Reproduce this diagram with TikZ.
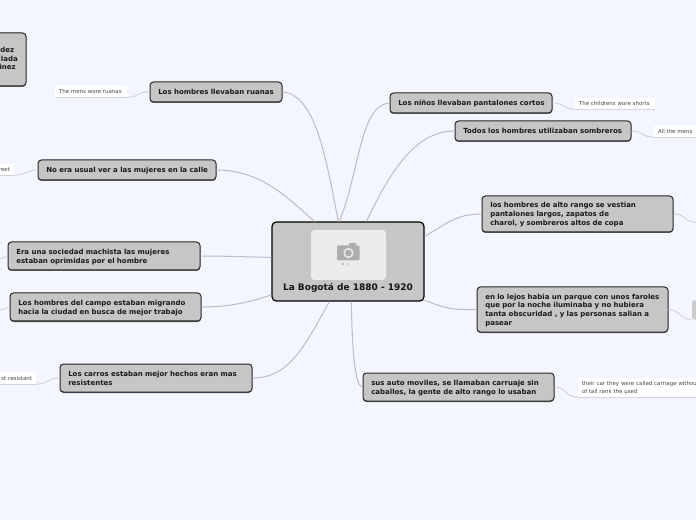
\documentclass[tikz,border=0pt]{standalone}
\usepackage{fontspec}
\setmainfont{DejaVu Sans}
\definecolor{bg}{HTML}{F3F6FF}
\definecolor{topicfill}{HTML}{C6C6C6}
\definecolor{edgeline}{HTML}{BDBDC2}
\definecolor{notetext}{HTML}{454545}
\definecolor{noteline}{HTML}{D4D4D8}
\newcommand{\topicfont}{\bfseries\fontsize{5.25}{6.6}\selectfont}
\tikzset{
  x=.75pt,y=-.75pt,
  topicbox/.style={draw=black!85,fill=topicfill,line width=.75pt,rounded corners=2.6pt,
    inner xsep=6.2pt,inner ysep=0pt,align=left,font=\topicfont,text=black!90},
  fartext/.style={inner sep=0pt,font=\topicfont,text=black!90,anchor=east},
  rootbox/.style={draw=black,fill=topicfill,line width=.9pt,rounded corners=3.2pt,inner sep=0pt},
  notebox/.style={fill=white,inner xsep=3pt,inner ysep=0pt,align=left,
    font=\fontsize{4.1}{6.2}\selectfont,text=notetext},
  branch/.style={draw=edgeline,line width=.75pt},
  twig/.style={draw=noteline,line width=.75pt},
}
% name, x1, y1, x2, y2, text
\newcommand{\topicnode}[6]{%
  \pgfmathsetmacro{\wid}{(#4-#2)*.75-12.4}%
  \pgfmathsetmacro{\hei}{(#5-#3)*.75}%
  \pgfmathsetmacro{\cx}{(#2+#4)/2}%
  \pgfmathsetmacro{\cy}{(#3+#5)/2}%
  \fill[black!60,rounded corners=2.6pt] (#2,#3+1) rectangle (#4,#5+1);
  \node[topicbox,text width=\wid pt,minimum height=\hei pt] (#1) at (\cx,\cy) {\raisebox{0pt}[\dimexpr\height+1.5pt\relax][\depth]{\begin{tabular}{@{}l@{}}#6\end{tabular}}};}
\newcommand{\notenode}[6]{%
  \pgfmathsetmacro{\wid}{(#4-#2)*.75-6}%
  \pgfmathsetmacro{\hei}{(#5-#3)*.75}%
  \pgfmathsetmacro{\cx}{(#2+#4)/2}%
  \pgfmathsetmacro{\cy}{(#3+#5)/2}%
  \node[notebox,text width=\wid pt,minimum height=\hei pt] (#1) at (\cx,\cy) {#6};
  \draw[twig] (#1.south west) -- (#1.south east);}
\begin{document}
\begin{tikzpicture}
\useasboundingbox (0,0) rectangle (696,520);
\clip (0,0) rectangle (696,520);
\fill[bg] (0,0) rectangle (696,520);

% root
\node[rootbox,minimum width=114pt,minimum height=59.25pt] (root) at (348,261.5) {};
\node[fill=black!8,rounded corners=2.5pt,minimum width=56.25pt,minimum height=37.5pt,inner sep=0pt] (photo) at (348.5,255) {};
\fill[black!32,rounded corners=.8pt] (337,245.5) rectangle (359.5,260.5);
\fill[black!32] (349,243.5) rectangle (356,246);
\draw[black!8,line width=1.1pt] (348.5,253) circle (4.3);
\fill[black!32] (343,264) circle (1.2);
\fill[black!22] (348,264) circle (1.2);
\node[font=\bfseries\fontsize{6.75}{8}\selectfont,text=black!92,inner sep=0pt] (title) at (348,288) {La Bogotá de 1880 - 1920};

% clipped top-left topic
\fill[black!60,rounded corners=2.6pt] (-20,33) rectangle (26,87);
\node[topicbox,minimum width=34.5pt,minimum height=39.75pt,inner xsep=0pt] (far) at (3,59.5) {};
\node[fartext] (fara) at (14.5,50) {dez};
\node[fartext] (farb) at (18,59) {lada};
\node[fartext] (farc) at (16,67) {inez};

% topics
\topicnode{ruanas}{150}{82}{282}{102}{Los hombres llevaban ruanas}
\topicnode{calle}{38}{160}{216}{180}{No era usual ver a las mujeres en la calle}
\topicnode{machista}{8}{242}{200}{270}{Era una sociedad machista las mujeres\\estaban oprimidas por el hombre}
\topicnode{campo}{10}{293}{201}{321}{Los hombres del campo estaban migrando\\hacia la ciudad en busca de mejor trabajo}
\topicnode{carros}{60}{364}{252}{392}{Los carros estaban mejor hechos eran mas\\resistentes}
\topicnode{ninos}{390}{93}{552}{113}{Los niños llevaban pantalones cortos}
\topicnode{todos}{455}{121}{631}{141}{Todos los hombres utilizaban sombreros}
\topicnode{alto}{482}{196}{673}{232}{los hombres de alto rango se vestian\\pantalones largos, zapatos de\\charol, y sombreros altos de copa}
\topicnode{parque}{477}{287}{668}{332}{en lo lejos habia un parque con unos faroles\\que por la noche iluminaba y no hubiera\\tanta obscuridad , y las personas salian a\\pasear}
\topicnode{auto}{363}{373}{554}{401}{sus auto moviles, se llamaban carruaje sin\\caballos, la gente de alto rango lo usaban}

% notes
\notenode{nruanas}{55}{86}{127}{97}{\mbox{The mens wore ruanas}}
\notenode{ncalle}{-40}{164}{14}{175}{\hfill reet}
\notenode{ncarros}{-40}{372}{36}{384}{\hfill st resistant}
\notenode{nninos}{575}{98}{655}{109}{\mbox{The childrens wore shorts}}
\notenode{ntodos}{654}{126}{740}{137}{All the mens}
\notenode{nauto}{578}{378}{740}{397}{their car they were called carriage withou\\of tall rank the used}
\node[fill=black!20,rounded corners=2pt,minimum width=15pt,minimum height=14.5pt,inner sep=0pt] (nparque) at (702,310) {};
\coordinate (offa) at (696,222.5);
\coordinate (offb) at (0,259);
\coordinate (offc) at (0,310);

% branches
\draw[branch] (ruanas.east) .. controls (318,94) and (328,172) .. ([xshift=50.25pt]root.north west);
\draw[branch] (calle.east) .. controls (262,170) and (290,200) .. ([xshift=32.25pt]root.north west);
\draw[branch] (machista.east) .. controls (225,256) and (250,257) .. ([yshift=-27pt]root.north west);
\draw[branch] (campo.east) .. controls (230,307) and (250,302) .. ([yshift=5pt]root.south west);
\draw[branch] (carros.east) .. controls (290,378) and (305,345) .. ([xshift=43.5pt]root.south west);
\draw[branch] (ninos.west) .. controls (360,105) and (360,170) .. ([xshift=51pt]root.north west);
\draw[branch] (todos.west) .. controls (415,131) and (390,172) .. ([xshift=71.25pt]root.north west);
\draw[branch] (alto.west) .. controls (455,214) and (445,225) .. ([yshift=-11.25pt]root.north east);
\draw[branch] (parque.west) .. controls (450,310) and (445,308) .. ([yshift=1pt]root.south east);
\draw[branch] (auto.west) .. controls (355,387) and (352,350) .. ([xshift=60pt]root.south west);

% twigs
\draw[twig] (ruanas.west) .. controls (138,91) and (140,97) .. (nruanas.south east);
\draw[twig] (calle.west) .. controls (26,170) and (26,175) .. (ncalle.south east);
\draw[twig] (carros.west) .. controls (48,378) and (48,384) .. (ncarros.south east);
\draw[twig] (ninos.east) .. controls (564,103) and (563,109) .. (nninos.south west);
\draw[twig] (todos.east) .. controls (643,131) and (642,137) .. (ntodos.south west);
\draw[twig] (auto.east) .. controls (566,387) and (565,397) .. (nauto.south west);
\draw[twig] (alto.east) .. controls (685,213) and (683,222) .. (offa);
\draw[twig] (parque.east) .. controls (680,310) and (680,319) .. (nparque.south west);
\draw[twig] (machista.west) .. controls (4,257) and (4,258) .. (offb);
\draw[twig] (campo.west) .. controls (6,307) and (4,310) .. (offc);
\end{tikzpicture}
\end{document}
